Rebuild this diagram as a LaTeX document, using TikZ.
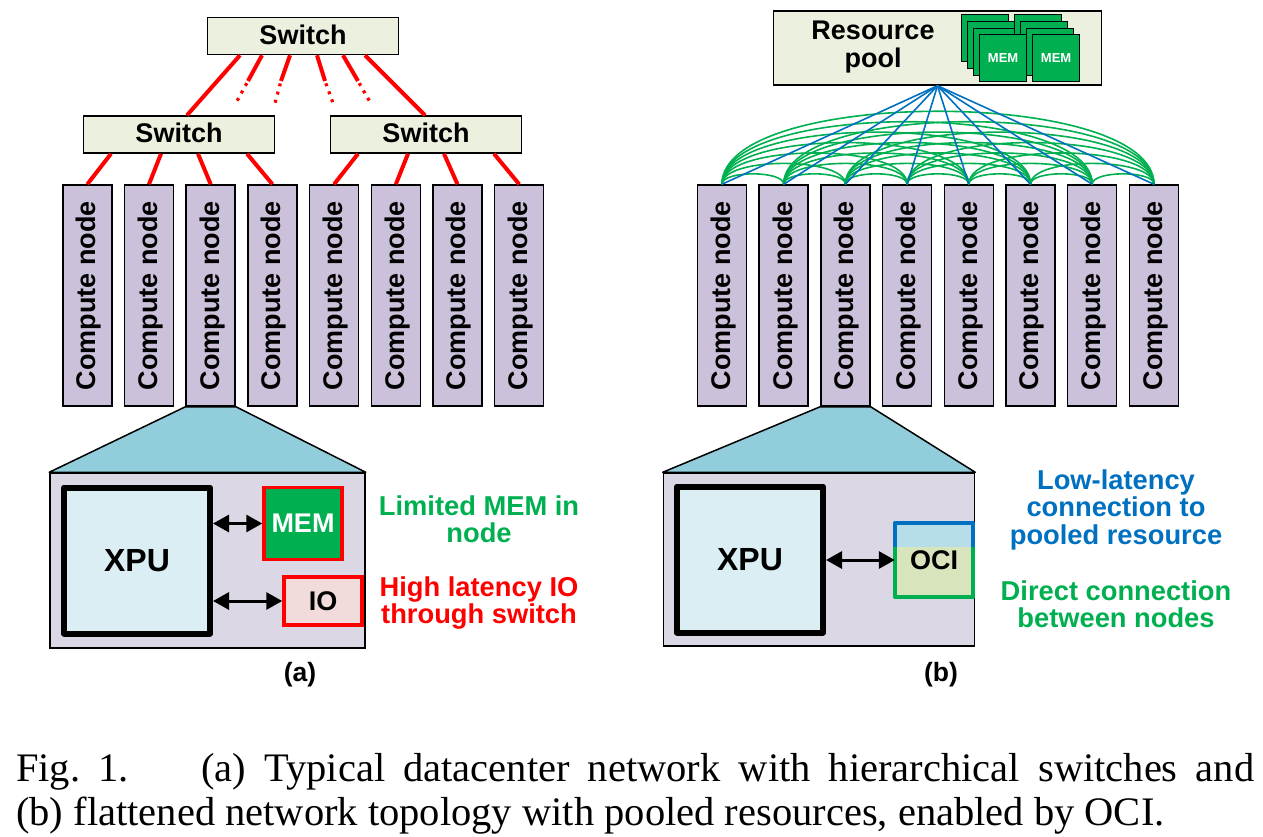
\documentclass[tikz,border=0pt]{standalone}
\usepackage{fontspec}
\setmainfont{Liberation Sans}
\newfontfamily\captionfont{Liberation Serif}
\usetikzlibrary{arrows.meta}
\definecolor{switchfill}{HTML}{EBF1DE}
\definecolor{nodefill}{HTML}{CCC1DA}
\definecolor{panelfill}{HTML}{DCD7E5}
\definecolor{zoomfill}{HTML}{92CDDC}
\definecolor{xpufill}{HTML}{DBEEF4}
\definecolor{memgreen}{HTML}{00B050}
\definecolor{iofill}{HTML}{F2DCDB}
\definecolor{ociblue}{HTML}{0070C0}
\definecolor{ocitop}{HTML}{B7DDE8}
\definecolor{ocibottom}{HTML}{D7E4BC}
\newcommand{\cnlabel}{\hspace{3pt}\rotatebox{90}{Compute node}}
\tikzset{
	lbl/.style={font=\fontsize{27}{28}\selectfont\bfseries, inner sep=0pt, align=center},
	switchbox/.style={lbl, draw, line width=1.5pt, fill=switchfill, minimum width=191pt, minimum height=37pt, text height=20pt, text depth=4pt},
	computebox/.style={lbl, draw, line width=1.5pt, fill=nodefill, minimum width=49pt, minimum height=221pt},
	panelbox/.style={draw, line width=1.5pt, fill=panelfill, inner sep=0pt},
	zoomshape/.style={line width=1.5pt, line join=round, fill=zoomfill},
	xpubox/.style={lbl, draw, line width=6pt, fill=xpufill, line join=round, minimum width=146pt, minimum height=146pt, font=\fontsize{32}{33}\selectfont\bfseries},
	membox/.style={lbl, draw=red, line width=3.5pt, minimum width=78pt},
	cardbox/.style={draw, line width=1.2pt, fill=memgreen, text=white, inner sep=0pt, minimum width=47pt, minimum height=47pt, font=\fontsize{13}{13}\selectfont\bfseries},
	redlink/.style={red, line width=4pt},
	reddots/.style={red, line width=3.2pt, dash pattern=on 3pt off 5.5pt, dash phase=6pt},
	biarrow/.style={{Triangle[length=16pt,width=17pt]}-{Triangle[length=16pt,width=17pt]}, line width=3pt},
	note/.style={lbl, font=\fontsize{27.3}{27.5}\selectfont\bfseries},
	sublbl/.style={lbl, font=\fontsize{26.5}{27}\selectfont\bfseries},
	capline/.style={anchor=base west, inner sep=0pt, font=\captionfont\fontsize{40.5}{44}\selectfont},
}
\begin{document}
\begin{tikzpicture}[x=1pt, y=-1pt]
	\useasboundingbox (0,0) rectangle (1263,836);

	% (a)
	\foreach \i/\x in {1/87.3, 2/149, 3/210.7, 4/272.4, 5/334.1, 6/395.8, 7/457.5, 8/519.2}
		\node[computebox] (cnA\i) at (\x,295.5) {\cnlabel};
	\node[switchbox] (swTop) at (303,36) {Switch};
	\node[switchbox] (swL) at (179,134.5) {Switch};
	\node[switchbox] (swR) at (426,134.5) {Switch};

	\draw[redlink] ([xshift=-63pt]swTop.south) -- ([xshift=8pt]swL.north);
	\draw[redlink] ([xshift=62pt]swTop.south) -- ([xshift=-1pt]swR.north);
	\foreach \s/\n/\t in {-68/1/swL, -18/2/swL, 19/3/swL, 68/4/swL, -68/5/swR, -18/6/swR, 18/7/swR, 68/8/swR}
		\draw[redlink] ([xshift=\s pt]\t.south) -- (cnA\n.north);

	\coordinate (stubA) at (248,81);
	\coordinate (stubB) at (281,81);
	\coordinate (stubC) at (325,81);
	\coordinate (stubD) at (358,81);
	\coordinate (dotA) at (237,101);
	\coordinate (dotB) at (275,103);
	\coordinate (dotC) at (333,103);
	\coordinate (dotD) at (370,102);
	\foreach \s/\n in {-41/A, -13/B, 14/C, 40/D} {
		\draw[redlink] ([xshift=\s pt]swTop.south) -- (stub\n);
		\draw[reddots] (stub\n) -- (dot\n);
	}

	\node[panelbox, minimum width=315pt, minimum height=175pt] (panelA) at (207.5,560.5) {};
	\draw[zoomshape] (cnA3.south west) -- (cnA3.south east) -- (panelA.north east) -- (panelA.north west) -- cycle;
	\node[xpubox] (xpuA) at (137,560.5) {XPU};
	\node[membox, fill=memgreen, text=white, minimum height=72pt] (memA) at (303,523.5) {MEM};
	\node[membox, fill=iofill, minimum height=48pt] (ioA) at (323,601) {IO};
	\draw[biarrow] (xpuA.east |- memA.west) -- (memA.west);
	\draw[biarrow] (xpuA.east |- ioA.west) -- (ioA.west);

	\node[note, text=memgreen] (noteMem) at (479,519) {Limited MEM in\\[0pt]node};
	\node[note, text=red] (noteIo) at (479,603) {High latency IO\\[0pt]through switch};
	\node[sublbl] (capA) at (300,675) {(a)};

	% (b)
	\foreach \i/\x in {1/722, 2/783.7, 3/845.4, 4/907.1, 5/968.8, 6/1030.5, 7/1092.2, 8/1153.9}
		\node[computebox] (cnB\i) at (\x,295.5) {\cnlabel};
	\node[draw, line width=1.5pt, fill=switchfill, minimum width=328pt, minimum height=74pt, inner sep=0pt] (pool) at (937.5,48) {};
	\node[lbl] (poolText) at (873,47.5) {Resource\\[0pt]pool};
	\foreach \n/\x/\y in {a/960.7/14, b/967/21, c/973/28}
		\node[cardbox, anchor=north west] (cardL\n) at (\x,\y) {};
	\foreach \n/\x/\y in {a/1014/14, b/1020/21, c/1026/28}
		\node[cardbox, anchor=north west] (cardR\n) at (\x,\y) {};
	\node[cardbox, anchor=north west] (cardLd) at (979,34) {MEM};
	\node[cardbox, anchor=north west] (cardRd) at (1032,34) {MEM};

	\foreach \i in {1,...,7} {
		\pgfmathtruncatemacro{\first}{\i+1}
		\foreach \j in {\first,...,8} {
			\pgfmathsetmacro{\lift}{(\j-\i)*13.9}
			\draw[memgreen, line width=1.6pt] (cnB\i.north) .. controls +(0,-\lift) and ([yshift=\lift pt]cnB\j.north) .. (cnB\j.north);
		}
	}
	\foreach \i in {1,...,8}
		\draw[ociblue, line width=1.6pt] (pool.south) -- (cnB\i.north);

	\node[panelbox, minimum width=311pt, minimum height=173pt] (panelB) at (819,559.5) {};
	\draw[zoomshape] (cnB3.south west) -- (cnB3.south east) -- (panelB.north east) -- (panelB.north west) -- cycle;
	\node[xpubox] (xpuB) at (750,559.5) {XPU};
	\node[inner sep=0pt, minimum width=78pt, minimum height=74pt] (oci) at (934,560) {};
	\coordinate (ociSplitL) at ([yshift=-24pt]oci.north west);
	\coordinate (ociSplitR) at ([yshift=-24pt]oci.north east);
	\fill[ocitop] (oci.north west) rectangle (ociSplitR);
	\fill[ocibottom] (ociSplitL) rectangle (oci.south east);
	\draw[ociblue, line width=3.5pt, line join=round] (ociSplitL) -- (oci.north west) -- (oci.north east) -- (ociSplitR);
	\draw[memgreen, line width=3.5pt, line join=round] (ociSplitL) -- (oci.south west) -- (oci.south east) -- (ociSplitR);
	\node[lbl] (ociText) at (934,560) {OCI};
	\draw[biarrow] (oci.west -| xpuB.east) -- (oci.west);

	\node[note, text=ociblue] (noteOci) at (1116,509.5) {Low-latency\\[0pt]connection to\\[0pt]pooled resource};
	\node[note, text=memgreen] (noteDirect) at (1116,604) {Direct connection\\[0pt]between nodes};
	\node[sublbl] (capB) at (941,675) {(b)};

	% caption
	\node[capline] (capOne) at (16,781.5) {\makebox[1238pt][s]{Fig.~1.\hspace{35pt} (a) Typical datacenter network with hierarchical switches and}};
	\node[capline] (capTwo) at (16,825) {(b) flattened network topology with pooled resources, enabled by OCI.};
\end{tikzpicture}
\end{document}
